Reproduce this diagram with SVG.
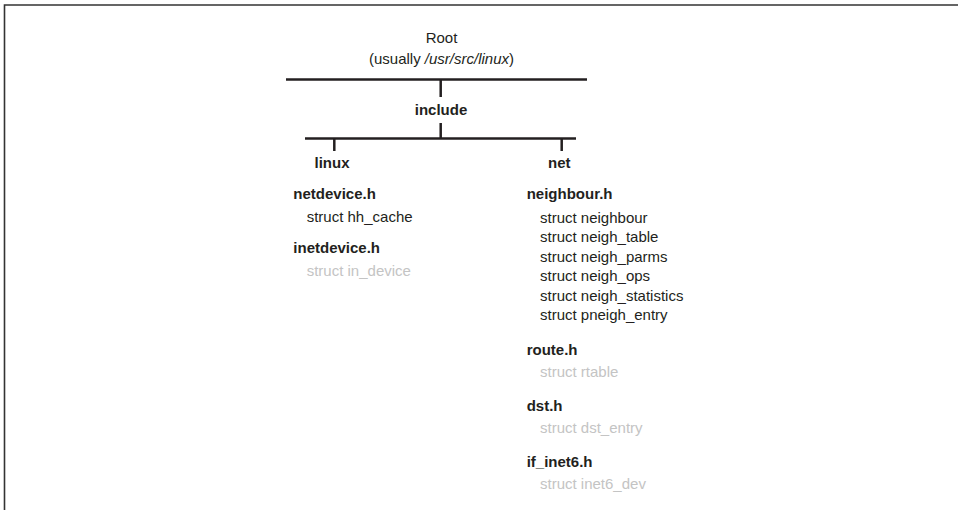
<svg xmlns="http://www.w3.org/2000/svg" width="958" height="510" viewBox="0 0 958 510">
<style>
text{font-family:"Liberation Sans",Arial,sans-serif;font-size:15px;fill:#231f20}
.b{font-weight:bold}
.g{fill:#c4c4c4}
.c{text-anchor:middle}
.ln{stroke:#231f20;stroke-width:2.5;fill:none}
.fr{stroke:#333;stroke-width:1.6;fill:none}
</style>
<rect width="958" height="510" fill="#fff"/>
<path class="fr" d="M4.5,510 V5 H958"/>
<g id="connectors">
<line class="ln" x1="286" y1="79.5" x2="587" y2="79.5"/>
<line class="ln" x1="440.7" y1="79.5" x2="440.7" y2="97"/>
<line class="ln" x1="440.7" y1="123" x2="440.7" y2="138.5"/>
<line class="ln" x1="305" y1="138.5" x2="576" y2="138.5"/>
<line class="ln" x1="334.3" y1="138.5" x2="334.3" y2="151"/>
<line class="ln" x1="561.7" y1="138.5" x2="561.7" y2="151"/>
</g>
<g id="root">
<text class="c" x="441.5" y="43">Root</text>
<text class="c" x="441.5" y="64">(usually <tspan font-style="italic">/usr/src/linux</tspan>)</text>
</g>
<g id="include"><text class="b c" x="441" y="115">include</text></g>
<g id="linux"><text class="b" x="314.5" y="168">linux</text></g>
<g id="net"><text class="b" x="548" y="168">net</text></g>
<g id="netdevice">
<text class="b" x="293.3" y="199">netdevice.h</text>
<text x="306.7" y="222">struct hh_cache</text>
</g>
<g id="inetdevice">
<text class="b" x="293.3" y="253">inetdevice.h</text>
<text class="g" x="306.7" y="276">struct in_device</text>
</g>
<g id="neighbour">
<text class="b" x="526.7" y="199">neighbour.h</text>
<text x="540" y="222.5">struct neighbour</text>
<text x="540" y="242">struct neigh_table</text>
<text x="540" y="261.5">struct neigh_parms</text>
<text x="540" y="281">struct neigh_ops</text>
<text x="540" y="300.5">struct neigh_statistics</text>
<text x="540" y="320">struct pneigh_entry</text>
</g>
<g id="route">
<text class="b" x="526.7" y="355">route.h</text>
<text class="g" x="540" y="377">struct rtable</text>
</g>
<g id="dst">
<text class="b" x="526.7" y="410.5">dst.h</text>
<text class="g" x="540" y="432.5">struct dst_entry</text>
</g>
<g id="if_inet6">
<text class="b" x="526.7" y="466.5">if_inet6.h</text>
<text class="g" x="540" y="488.5">struct inet6_dev</text>
</g>
</svg>
